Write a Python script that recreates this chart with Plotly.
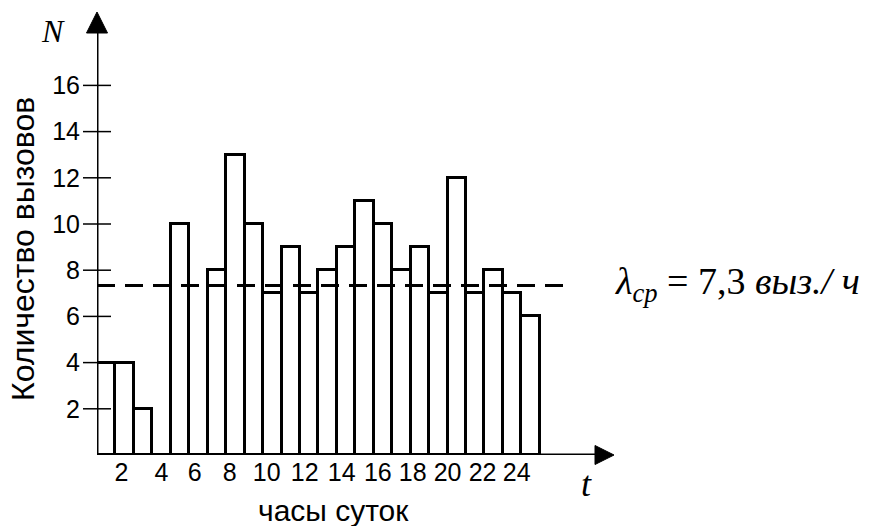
import plotly.graph_objects as go

# ---- data ----
hours = list(range(1, 25))
calls = [4, 4, 2, 0, 10, 0, 8, 13, 10, 7, 9, 7, 8, 9, 11, 10, 8, 9, 7, 12, 7, 8, 7, 6]
y_tick_vals = [2, 4, 6, 8, 10, 12, 14, 16]
x_tick_text = ["2", "4", "6", "8", "10", "12", "14", "16", "18", "20", "22", "24"]
x_tick_pos = [1.32, 3.49, 5.30, 7.19, 9.20, 11.26, 13.26, 15.22, 17.11, 19.0, 20.9, 22.75]

mean_calls = sum(calls) / len(calls)
mean_text = f"{mean_calls:.1f}".replace(".", ",")

# ---- layout geometry ----
W, H = 869, 526
L, R, T, B = 97, 255, 12, 71
PW, PH = W - L - R, H - T - B
X_MAX = PW / 18.45
Y_MAX = PH / 23.1

SANS = "Liberation Sans, Arial, sans-serif"
SERIF = "Liberation Serif, Times New Roman, serif"


def px(xp):
    return (xp - L) / PW


def py(yp):
    return (H - B - yp) / PH


fig = go.Figure()

fig.add_bar(
    x=[h - 0.5 for h in hours], y=calls, width=1,
    marker=dict(color="white", line=dict(color="black", width=3)),
    hoverinfo="skip",
)

fig.add_scatter(
    x=[0, 25.37], y=[mean_calls, mean_calls], mode="lines",
    line=dict(color="black", width=3, dash="18px,10px"),
    hoverinfo="skip",
)

# y tick marks crossing the axis
fig.add_scatter(
    x=[0] * len(y_tick_vals), y=y_tick_vals, mode="markers",
    marker=dict(symbol="line-ew", size=20, line=dict(color="black", width=1.5)),
    cliponaxis=False, hoverinfo="skip",
)

shapes = [
    dict(type="line", xref="paper", yref="y", x0=0, x1=0.97, y0=0, y1=0,
         line=dict(color="black", width=3)),
    dict(type="line", xref="x", yref="paper", x0=0, x1=0, y0=0, y1=0.96,
         line=dict(color="black", width=3)),
]

# axis arrowheads
fig.add_scatter(
    x=[X_MAX], y=[0], mode="markers",
    marker=dict(symbol="arrow-right", size=19, color="black",
                line=dict(color="black", width=1)),
    cliponaxis=False, hoverinfo="skip",
)
fig.add_scatter(
    x=[0], y=[Y_MAX], mode="markers",
    marker=dict(symbol="arrow-up", size=21, color="black",
                line=dict(color="black", width=1)),
    cliponaxis=False, hoverinfo="skip",
)


def label(text, x, y, family, size, **kw):
    d = dict(text=text, xref="paper", yref="paper", x=px(x), y=py(y),
             xanchor="center", yanchor="middle", showarrow=False,
             font=dict(family=family, size=size, color="black"))
    d.update(kw)
    return d


annotations = [
    label("Количество вызовов", 23, 249, SANS, 32, textangle=-90),
    label("часы суток", 333, 511, SANS, 30),
    label("<i>N</i>", 53, 31, SERIF, 32),
    label("<i>t</i>", 586, 484, SERIF, 36),
    label(f"<i>λ</i><sub><i>ср</i></sub> = {mean_text} <i>выз./ ч</i>",
          613, 284, SERIF, 38, xanchor="left"),
]

fig.update_layout(
    width=W, height=H, autosize=False,
    margin=dict(l=L, r=R, t=T, b=B, pad=0),
    paper_bgcolor="white", plot_bgcolor="white",
    showlegend=False, bargap=0,
    shapes=shapes, annotations=annotations,
    xaxis=dict(range=[0, X_MAX], showgrid=False, zeroline=False, showline=False,
               tickmode="array", tickvals=x_tick_pos, ticktext=x_tick_text, ticks="",
               tickfont=dict(family=SANS, size=25, color="black"), ticklabelstandoff=0),
    yaxis=dict(range=[0, Y_MAX], showgrid=False, zeroline=False, showline=False,
               tickmode="array", tickvals=y_tick_vals, ticks="",
               tickfont=dict(family=SANS, size=25, color="black"), ticklabelstandoff=16),
)

fig.write_html("out.html", config={"displayModeBar": False},
               post_script="document.body.style.margin='0px';")
